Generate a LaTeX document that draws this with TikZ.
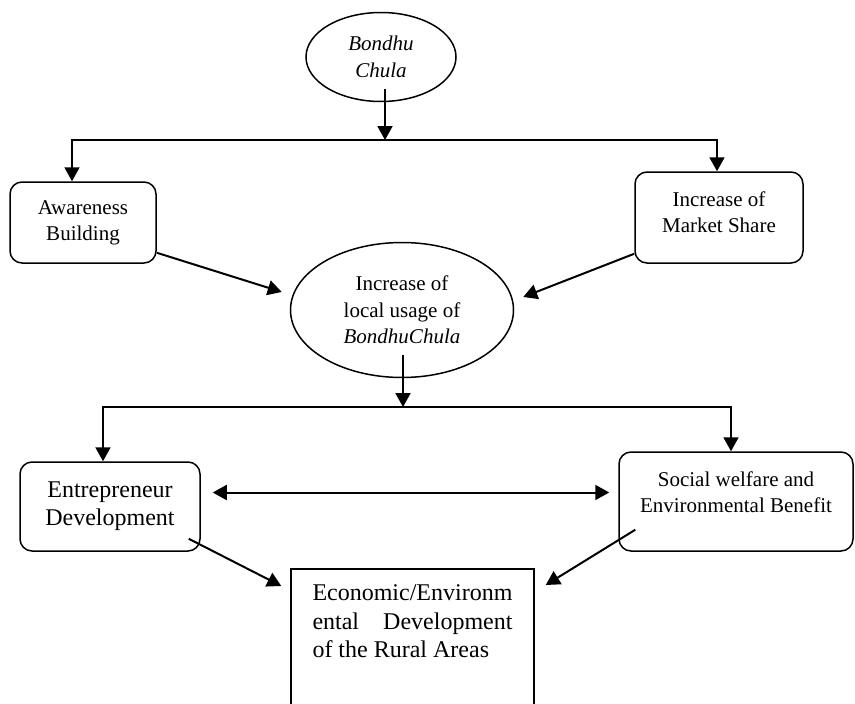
\documentclass[tikz,border=0pt]{standalone}
\usepackage{fontspec}
\setmainfont{Liberation Serif}
\usetikzlibrary{shapes.geometric,arrows.meta}

\begin{document}
\begin{tikzpicture}[x=1pt,y=-1pt,
  box/.style={draw,line width=1.5pt,rounded corners=12pt,align=center,inner sep=0pt,font=\fontsize{21}{26}\selectfont},
  oval/.style={draw,ellipse,line width=1.5pt,align=center,inner sep=0pt,font=\fontsize{21}{26.5}\selectfont},
  sharpbox/.style={draw,line width=1.5pt,align=justify,font=\fontsize{24}{28.5}\selectfont},
  arrow/.style={-{Triangle[length=14pt,width=15pt]},line width=2pt},
  dblarrow/.style={{Triangle[length=14pt,width=15pt]}-{Triangle[length=14pt,width=15pt]},line width=2pt}
]
  \useasboundingbox (0,0) rectangle (855,704);
  % top part
  \node[oval,minimum width=150pt,minimum height=89pt] (chula) at (381,57) {\textit{Bondhu}\\\textit{Chula}};
  \node[box,minimum width=146pt,minimum height=81pt] (aware) at (83,222.5) {Awareness\\Building};
  \node[box,minimum width=168pt,minimum height=91pt] (market) at (719,217.5) {Increase of\\Market Share\\[-15pt]\mbox{}};
  \node[oval,minimum width=223pt,minimum height=135pt] (usage) at (402,310) {Increase of\\local usage of\\\textit{BondhuChula}};
  % bottom part
  \node[box,font=\fontsize{24}{28}\selectfont,minimum width=180pt,minimum height=89pt] (entre) at (110,506.5) {Entrepreneur\\Development};
  \node[box,minimum width=234pt,minimum height=99pt] (social) at (736,501.5) {Social welfare and\\Environmental Benefit\\[-8pt]\mbox{}};
  \node[sharpbox,anchor=north,text width=200pt,inner xsep=21.5pt,inner ysep=16pt] (econ) at (412.5,568)
    {Economic/Environm\\ental\hfill Development\\of the Rural Areas\hfill\mbox{}\\\mbox{}\\\mbox{}};

  \coordinate (split1) at (385,140);
  \coordinate (split2) at (403,407);
  \draw[arrow] ([xshift=4pt,yshift=13pt]chula.south) -- (split1);
  \draw[arrow] (split1) -| ([xshift=-11pt]aware.north);
  \draw[arrow] (split1) -| ([xshift=-2pt]market.north);
  \draw[arrow] ([yshift=11pt]aware.south east) -- ([xshift=-8pt,yshift=18pt]usage.west);
  \draw[arrow] ([yshift=10pt]market.south west) -- ([xshift=9pt,yshift=13pt]usage.east);
  \draw[arrow] ([xshift=1pt,yshift=23pt]usage.south) -- (split2);
  \draw[arrow] (split2) -| ([xshift=-7pt]entre.north);
  \draw[arrow] (split2) -| ([xshift=-5pt]social.north);
  \draw[dblarrow] ([xshift=12pt,yshift=14pt]entre.east) -- ([xshift=-9pt,yshift=14pt]entre.east -| social.west);
  \draw[arrow] ([xshift=-12pt,yshift=13pt]entre.south east) -- ([xshift=-9pt,yshift=-18pt]econ.north west);
  \draw[arrow] ([xshift=17pt,yshift=22pt]social.south west) -- ([xshift=11pt,yshift=-17pt]econ.north east);
\end{tikzpicture}
\end{document}
